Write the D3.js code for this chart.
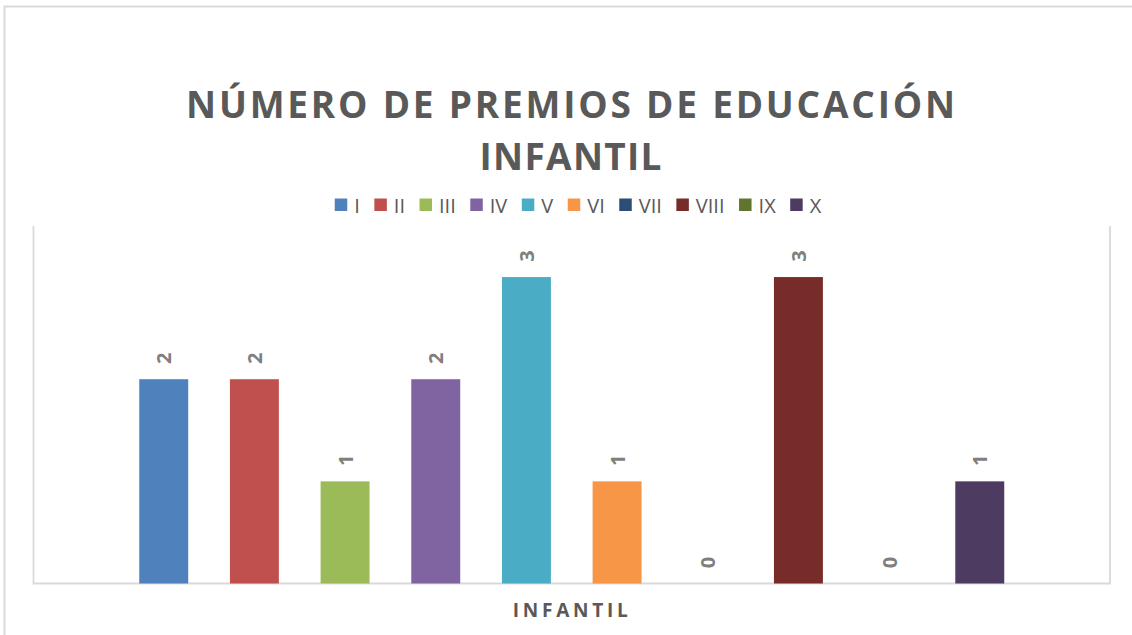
<!DOCTYPE html>
<html>
<head>
<meta charset="utf-8">
<script src="https://cdn.jsdelivr.net/npm/d3@7"></script>
<style>
  body { margin: 0; background: #fff; }
  text { font-family: "Open Sans", sans-serif; }
</style>
</head>
<body>
<script>
const series = ['I', 'II', 'III', 'IV', 'V', 'VI', 'VII', 'VIII', 'IX', 'X'];
const values = [2, 2, 1, 2, 3, 1, 0, 3, 0, 1];
const colors = ['#4F81BD', '#C0504D', '#9BBB59', '#8064A2', '#4BACC6',
                '#F79646', '#2C4D75', '#772C2A', '#5F7530', '#4D3B62'];
const category = 'INFANTIL';
const titleLines = ['NÚMERO DE PREMIOS DE EDUCACIÓN', 'INFANTIL'];

const W = 1132, H = 635;
const plot = { left: 33.5, right: 1110, top: 226, bottom: 583.5 };

const svg = d3.select('body').append('svg')
  .attr('width', W)
  .attr('height', H);

// outer chart border (extends past the window on right/bottom)
svg.append('path')
  .attr('d', 'M4.5,' + (H + 2) + ' V6.5 H' + (W + 2))
  .attr('fill', 'none')
  .attr('stroke', '#d9d9d9')
  .attr('stroke-width', 2);

// title
const titleY = [117.5, 169.5];
const titleW = [769, 182];
titleLines.forEach((t, i) => {
  svg.append('text')
    .attr('x', 570.5)
    .attr('y', titleY[i])
    .attr('text-anchor', 'middle')
    .attr('font-size', 37)
    .attr('font-weight', 700)
    .attr('fill', '#595959')
    .attr('textLength', titleW[i])
    .attr('lengthAdjust', 'spacing')
    .text(t);
});

// scales
const x0 = d3.scaleBand()
  .domain([category])
  .range([plot.left, plot.right]);

const groupW = 906.7;
const x1 = d3.scaleBand()
  .domain(series)
  .range([x0(category) + (x0.bandwidth() - groupW) / 2, x0(category) + (x0.bandwidth() + groupW) / 2])
  .paddingInner(0.46)
  .paddingOuter(0.23);

const y = d3.scaleLinear()
  .domain([0, 3.5])
  .range([plot.bottom, plot.top]);

// plot area frame (left, bottom, right)
svg.append('path')
  .attr('d', 'M' + plot.left + ',' + plot.top + ' V' + plot.bottom + ' H' + plot.right + ' V' + plot.top)
  .attr('fill', 'none')
  .attr('stroke', '#d9d9d9')
  .attr('stroke-width', 1.8);

// bars
svg.selectAll('.bar')
  .data(series)
  .enter().append('rect')
  .attr('class', 'bar')
  .attr('x', d => x1(d))
  .attr('width', x1.bandwidth())
  .attr('y', (d, i) => y(values[i]))
  .attr('height', (d, i) => y(0) - y(values[i]))
  .attr('fill', (d, i) => colors[i]);

// data labels, rotated
svg.selectAll('.lbl')
  .data(series)
  .enter().append('text')
  .attr('class', 'lbl')
  .attr('transform', (d, i) => 'translate(' + (x1(d) + x1.bandwidth() / 2) + ',' + (y(values[i]) - 21) + ') rotate(-90)')
  .attr('text-anchor', 'middle')
  .attr('dominant-baseline', 'central')
  .attr('font-size', 20)
  .attr('font-weight', 700)
  .attr('fill', '#7f7f7f')
  .text((d, i) => values[i]);

// category axis label
svg.append('text')
  .attr('x', x0(category) + x0.bandwidth() / 2 - 1.5)
  .attr('y', 616.5)
  .attr('text-anchor', 'middle')
  .attr('font-size', 19)
  .attr('font-weight', 700)
  .attr('fill', '#595959')
  .attr('textLength', 115)
  .attr('lengthAdjust', 'spacing')
  .text(category);

// legend
const legend = svg.append('g');
let lx = 0;
series.forEach((s, i) => {
  const g = legend.append('g').attr('transform', 'translate(' + lx + ',0)');
  g.append('rect')
    .attr('x', 0).attr('y', -6.5)
    .attr('width', 12.5).attr('height', 12.5)
    .attr('fill', colors[i]);
  const t = g.append('text')
    .attr('x', 19.5)
    .attr('y', 0)
    .attr('dominant-baseline', 'central')
    .attr('font-size', 20)
    .attr('fill', '#595959')
    .text(s);
  lx += 19.5 + t.node().getComputedTextLength() + 14.5;
});
const legendW = lx - 14.5;
legend.attr('transform', 'translate(' + (578 - legendW / 2) + ',205)');
</script>
</body>
</html>
